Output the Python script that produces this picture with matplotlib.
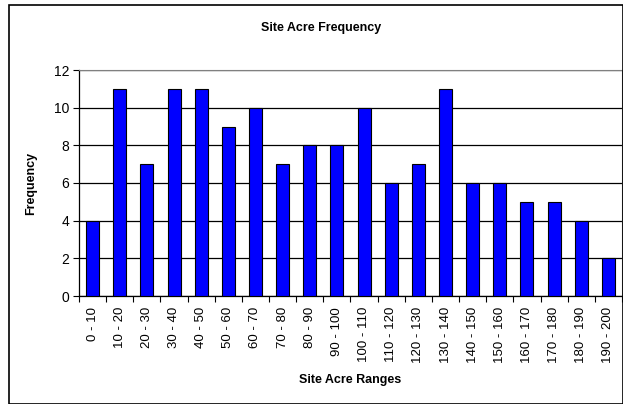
import matplotlib
matplotlib.use("Agg")
import matplotlib.pyplot as plt
from matplotlib.patches import Rectangle
import numpy as np

categories = ["0 - 10", "10 - 20", "20 - 30", "30 - 40", "40 - 50", "50 - 60", "60 - 70",
              "70 - 80", "80 - 90", "90 - 100", "100 - 110", "110 - 120", "120 - 130",
              "130 - 140", "140 - 150", "150 - 160", "160 - 170", "170 - 180",
              "180 - 190", "190 - 200"]
frequency = [4, 11, 7, 11, 11, 9, 10, 7, 8, 8, 10, 6, 7, 11, 6, 6, 5, 5, 4, 2]
y_ticks = [0, 2, 4, 6, 8, 10, 12]

plt.rcParams['font.family'] = ['Liberation Sans', 'DejaVu Sans']

W, H = 623, 404
fig = plt.figure(figsize=(W/100, H/100), dpi=100)
fig.patches.append(Rectangle((9/W, 0/H), (W-9)/W, (H-5)/H, transform=fig.transFigure,
                             fill=False, edgecolor='black', linewidth=1.2))

ax = fig.add_axes([79/W, 1-296/H, (622-79)/W, (296-70)/H])
x = np.arange(len(categories))
ax.bar(x, frequency, width=0.48, color='#0000FF', edgecolor='black', linewidth=0.8, zorder=3)
ax.set_xlim(-0.5, len(categories)-0.5)
ax.set_ylim(0, 12)
ax.set_yticks(y_ticks)
ax.set_yticklabels([str(v) for v in y_ticks], fontsize=10)
ax.yaxis.grid(True, color='black', linewidth=0.9, zorder=0)
ax.set_axisbelow(True)

ax.set_xticks(x)
ax.set_xticklabels(categories, rotation=90, fontsize=9.5)
ax.tick_params(axis='x', length=0, pad=8)
ax.set_xticks(np.arange(-0.5, len(categories)), minor=True)
ax.tick_params(axis='x', which='minor', length=4, direction='out', width=0.8)
ax.tick_params(axis='y', length=4, direction='out', width=0.8, pad=3)

for s in ['top', 'right']:
    ax.spines[s].set_color('#808080')
    ax.spines[s].set_linewidth(0.8)
for s in ['left', 'bottom']:
    ax.spines[s].set_color('black')
    ax.spines[s].set_linewidth(0.9)

ax.set_ylabel('Frequency', fontsize=9, fontweight='bold', labelpad=12)
ax.set_xlabel('Site Acre Ranges', fontsize=9, fontweight='bold', labelpad=8)
fig.text(0.5 + 0.015, 1-28/H, 'Site Acre Frequency', fontsize=9, fontweight='bold',
         ha='center', va='center')

fig.savefig('out.png', dpi=100)
